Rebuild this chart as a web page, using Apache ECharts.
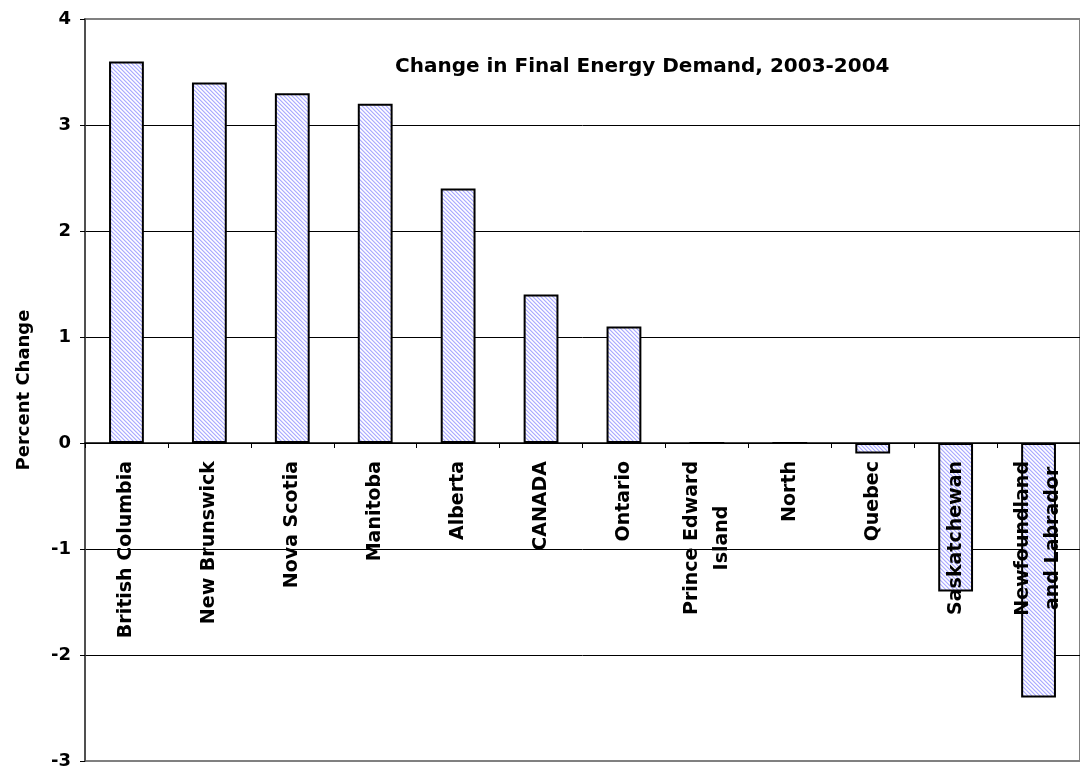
<!DOCTYPE html>
<html>
<head>
<meta charset="utf-8">
<script src="https://cdn.jsdelivr.net/npm/echarts@6/dist/echarts.min.js"></script>
<style>
html,body{margin:0;padding:0;background:#fff;}
#chart{width:1080px;height:769px;}
</style>
</head>
<body>
<div id="chart"></div>
<script>
const categories = ['British Columbia','New Brunswick','Nova Scotia','Manitoba','Alberta','CANADA','Ontario','Prince Edward\nIsland','North','Quebec','Saskatchewan','Newfoundland\nand Labrador'];
const percentChange = [3.6, 3.4, 3.3, 3.2, 2.4, 1.4, 1.1, 0, 0, -0.1, -1.4, -2.4];
const yTicks = {min: -3, max: 4, interval: 1};
const chartTitle = 'Change in Final Energy Demand, 2003-2004';
const yAxisName = 'Percent Change';

const FONT = 'DejaVu Sans';
const H = 769, GRID_TOP = 19, GRID_BOTTOM = 8;
const gridH = H - GRID_TOP - GRID_BOTTOM;
// labels hang just below the zero line (axis labels are laid out from grid bottom)
const zeroFromBottom = gridH * (0 - yTicks.min) / (yTicks.max - yTicks.min);
const labelMargin = 18 - zeroFromBottom;

const pc = document.createElement('canvas');
pc.width = 4; pc.height = 4;
const ctx = pc.getContext('2d');
ctx.fillStyle = '#ffffff';
ctx.fillRect(0,0,4,4);
ctx.fillStyle = '#acacff';
for (let i = 0; i < 4; i++) { ctx.fillRect(i, i, 1, 1); }
ctx.fillStyle = '#d8d8ff';
for (let i = 0; i < 4; i++) { ctx.fillRect((i + 1) % 4, i, 1, 1); }
ctx.fillStyle = '#eeeeff';
for (let i = 0; i < 4; i++) { ctx.fillRect((i + 3) % 4, i, 1, 1); }

const chart = echarts.init(document.getElementById('chart'));
chart.setOption({
  animation: false,
  backgroundColor: '#ffffff',
  title: {
    text: chartTitle,
    left: 395,
    top: 57,
    padding: 0,
    textStyle: {fontFamily: FONT, fontWeight: 'bold', fontSize: 20, color: '#000'}
  },
  grid: {
    left: 85, right: 0, top: GRID_TOP, bottom: GRID_BOTTOM,
    outerBoundsMode: 'none',
    show: true, borderColor: '#808080', borderWidth: 2, backgroundColor: 'transparent'
  },
  xAxis: {
    type: 'category',
    z: 5,
    data: categories,
    axisLine: {onZero: true, lineStyle: {color: '#000', width: 1.5}},
    axisTick: {show: true, length: 5, interval: 0, lineStyle: {color: '#000'}},
    axisLabel: {
      interval: 0,
      rotate: 90,
      margin: labelMargin,
      fontFamily: FONT, fontWeight: 'bold', fontSize: 19, color: '#000',
      formatter: function (v) {
        return v.split('\n').map(s => '{c|' + s + '}').join('\n');
      },
      rich: {
        c: {align: 'center', fontFamily: FONT, fontWeight: 'bold', fontSize: 19, color: '#000', lineHeight: 30}
      }
    },
    splitLine: {show: false}
  },
  yAxis: {
    type: 'value',
    min: yTicks.min, max: yTicks.max, interval: yTicks.interval,
    name: yAxisName,
    nameLocation: 'middle',
    nameRotate: 90,
    nameGap: 52,
    nameTextStyle: {fontFamily: FONT, fontWeight: 'bold', fontSize: 18, color: '#000'},
    axisLine: {show: true, lineStyle: {color: '#404040', width: 1.5}},
    axisTick: {show: true, length: 5, lineStyle: {color: '#000'}},
    axisLabel: {margin: 14, fontFamily: FONT, fontWeight: 'bold', fontSize: 18, color: '#000'},
    splitLine: {show: true, showMinLine: false, showMaxLine: false, lineStyle: {color: '#000', width: 1}}
  },
  series: [{
    type: 'bar',
    z: 2,
    data: percentChange,
    barWidth: '42%',
    itemStyle: {
      color: {image: pc, repeat: 'repeat'},
      borderColor: '#000',
      borderWidth: 2
    }
  }]
});
</script>
</body>
</html>
